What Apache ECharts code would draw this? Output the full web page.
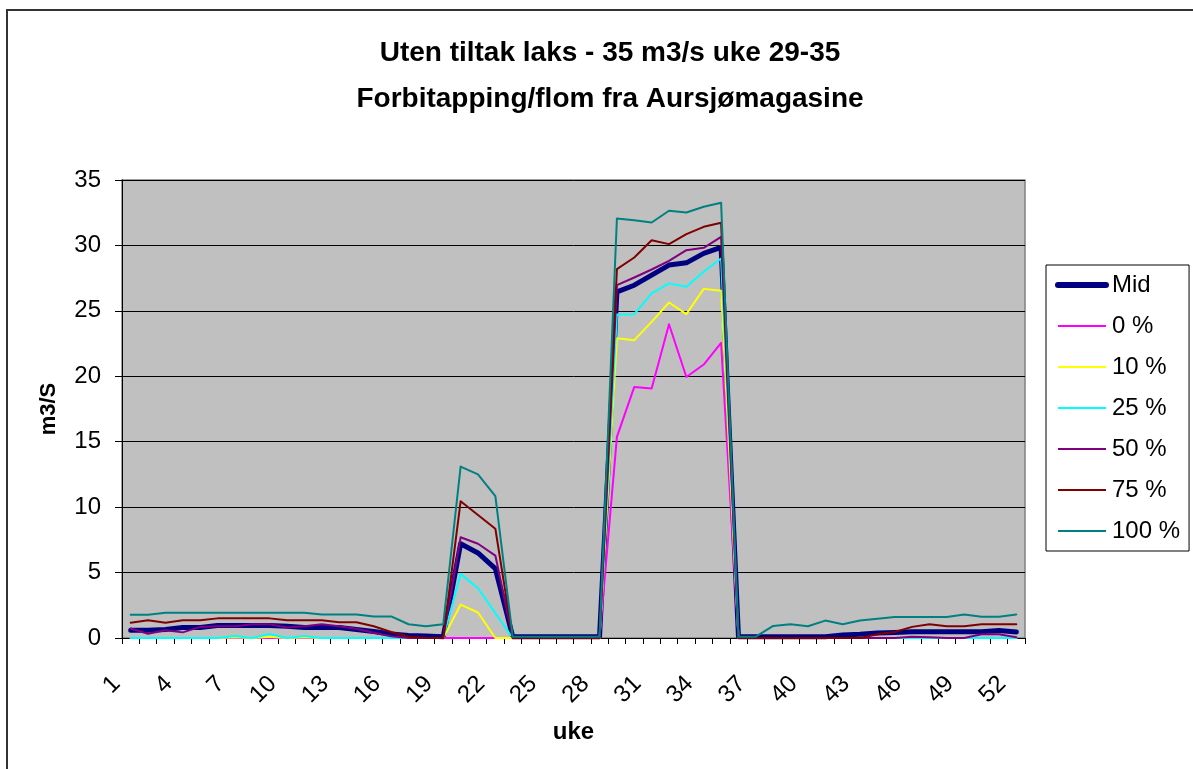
<!DOCTYPE html>
<html>
<head>
<meta charset="utf-8">
<script src="https://cdn.jsdelivr.net/npm/echarts@6/dist/echarts.min.js"></script>
<style>
  html, body { margin: 0; padding: 0; background: #fff; }
  #chart { width: 1193px; height: 769px; }
</style>
</head>
<body>
<div id="chart"></div>
<script>
// uke 1..52
const weeks = [];
for (let i = 1; i <= 52; i++) weeks.push(String(i));

const midData = [0.6, 0.6, 0.65, 0.8, 0.8, 0.95, 0.95, 0.95, 0.95, 0.9, 0.8, 0.8, 0.8, 0.65, 0.5, 0.3, 0.2, 0.15, 0.1,
  7.2, 6.5, 5.3, 0.1, 0.1, 0.1, 0.1, 0.1, 0.1,
  26.45, 26.96, 27.73, 28.5, 28.67, 29.39, 29.85,
  0.1, 0.1, 0.1, 0.1, 0.1, 0.1, 0.23, 0.28, 0.38, 0.42, 0.48, 0.48, 0.48, 0.48, 0.48, 0.58, 0.46];
const p0Data = [0, 0, 0, 0, 0, 0, 0, 0, 0, 0, 0, 0, 0, 0, 0, 0, 0, 0, 0,
  0, 0, 0, 0, 0, 0, 0, 0, 0,
  15.37, 19.19, 19.07, 23.98, 19.95, 20.9, 22.55,
  0, 0, 0, 0, 0, 0, 0, 0, 0, 0, 0, 0, 0, 0, 0, 0, 0];
const p10Data = [0, 0, 0, 0, 0, 0, 0.05, 0, 0.1, 0, 0.05, 0, 0, 0, 0, 0, 0, 0, 0,
  2.55, 1.95, 0, 0, 0, 0, 0, 0, 0,
  22.91, 22.76, 24.16, 25.64, 24.75, 26.68, 26.53,
  0, 0, 0, 0, 0, 0, 0, 0, 0, 0, 0, 0, 0, 0, 0, 0, 0];
const p25Data = [0, 0, 0, 0, 0, 0, 0.15, 0, 0.3, 0, 0.15, 0, 0, 0, 0, 0, 0, 0, 0,
  4.9, 3.8, 1.9, 0, 0, 0, 0, 0, 0,
  24.72, 24.75, 26.33, 27.1, 26.84, 27.99, 29.0,
  0, 0, 0, 0, 0, 0, 0, 0, 0, 0, 0, 0, 0, 0, 0, 0, 0];
const p50Data = [0.72, 0.33, 0.6, 0.43, 0.85, 0.9, 0.9, 1.05, 1.05, 0.8, 0.9, 1.05, 0.9, 0.7, 0.4, 0.13, 0, 0, 0,
  7.7, 7.2, 6.3, 0, 0, 0, 0, 0, 0,
  26.96, 27.55, 28.16, 28.82, 29.64, 29.82, 30.66,
  0, 0, 0, 0, 0, 0, 0, 0, 0, 0, 0.1, 0.05, 0, 0, 0.28, 0.28, 0.05];
const p75Data = [1.17, 1.35, 1.17, 1.35, 1.35, 1.5, 1.5, 1.5, 1.5, 1.35, 1.35, 1.35, 1.2, 1.2, 0.9, 0.46, 0.1, 0, 0,
  10.45, 9.4, 8.35, 0, 0, 0, 0, 0, 0,
  28.19, 29.08, 30.4, 30.1, 30.86, 31.42, 31.73,
  0, 0, 0, 0, 0, 0, 0, 0, 0.28, 0.46, 0.85, 1.05, 0.9, 0.9, 1.05, 1.05, 1.05];
const p100Data = [1.78, 1.78, 1.93, 1.93, 1.93, 1.93, 1.93, 1.93, 1.93, 1.93, 1.93, 1.8, 1.8, 1.8, 1.65, 1.65, 1.05, 0.9, 1.05,
  13.1, 12.5, 10.85, 0.1, 0.1, 0.1, 0.1, 0.1, 0.1,
  32.06, 31.93, 31.75, 32.65, 32.52, 32.95, 33.26,
  0.1, 0.1, 0.92, 1.05, 0.9, 1.33, 1.05, 1.33, 1.48, 1.6, 1.6, 1.6, 1.6, 1.8, 1.63, 1.63, 1.8];

const seriesNames = ['Mid', '0 %', '10 %', '25 %', '50 %', '75 %', '100 %'];
const seriesColors = ['#000080', '#FF00FF', '#FFFF00', '#00FFFF', '#800080', '#800000', '#008080'];
const allData = [midData, p0Data, p10Data, p25Data, p50Data, p75Data, p100Data];

const FONT = 'Liberation Sans, Arial, sans-serif';

let chart = echarts.init(document.getElementById('chart'));

let series = seriesNames.map((name, i) => {
  return {
    name: name,
    type: 'line',
    data: allData[i],
    symbol: 'none',
    showSymbol: false,
    animation: false,
    lineStyle: {
      color: seriesColors[i],
      width: i === 0 ? 5 : 2,
      cap: 'round',
      join: 'round'
    },
    itemStyle: { color: seriesColors[i] }
  };
});

// legend entries: line only, Mid thicker
let legendData = seriesNames.map((name, i) => {
  return {
    name: name,
    itemStyle: { color: 'rgba(0,0,0,0)', borderWidth: 0 },
    lineStyle: { color: seriesColors[i], width: i === 0 ? 6 : 2, cap: i === 0 ? 'round' : 'butt' }
  };
});

let options = {
  animation: false,
  backgroundColor: '#fff',
  textStyle: { fontFamily: FONT, color: '#000' },
  title: {
    text: 'Uten tiltak laks - 35 m3/s uke 29-35\nForbitapping/flom fra Aursjømagasine',
    left: 605,
    top: 25,
    textAlign: 'center',
    textStyle: {
      fontFamily: FONT,
      fontSize: 28,
      fontWeight: 'bold',
      color: '#000',
      lineHeight: 46
    }
  },
  legend: {
    orient: 'vertical',
    left: 1046,
    top: 265,
    padding: [8, 9, 8, 9],
    itemGap: 17,
    itemWidth: 48,
    itemHeight: 24,
    borderColor: '#000',
    borderWidth: 1,
    backgroundColor: '#fff',
    textStyle: { fontFamily: FONT, fontSize: 24, color: '#000', padding: [0, 0, 0, 1] },
    data: legendData
  },
  grid: {
    left: 122,
    right: 168,
    top: 180,
    bottom: 131,
    show: true,
    backgroundColor: '#C0C0C0',
    borderColor: '#808080',
    borderWidth: 1.5
  },
  xAxis: {
    type: 'category',
    data: weeks,
    boundaryGap: true,
    name: 'uke',
    nameLocation: 'middle',
    nameGap: 82,
    nameTextStyle: { fontFamily: FONT, fontSize: 24, fontWeight: 'bold', color: '#000' },
    axisLine: { lineStyle: { color: '#000', width: 1 } },
    axisTick: { show: true, interval: 0, length: 6, inside: false, lineStyle: { color: '#000' } },
    axisLabel: {
      interval: 2,
      rotate: 45,
      margin: 28,
      padding: [0, 20, 0, 0],
      fontFamily: FONT,
      fontSize: 24,
      color: '#000'
    },
    splitLine: { show: false }
  },
  yAxis: {
    type: 'value',
    min: 0,
    max: 35,
    interval: 5,
    name: 'm3/S',
    nameLocation: 'middle',
    nameRotate: 90,
    nameGap: 62,
    nameTextStyle: { fontFamily: FONT, fontSize: 22, fontWeight: 'bold', color: '#000' },
    axisLine: { show: true, lineStyle: { color: '#000', width: 1 } },
    axisTick: { show: true, length: 7, inside: false, lineStyle: { color: '#000' } },
    axisLabel: { margin: 21, fontFamily: FONT, fontSize: 24, color: '#000' },
    splitLine: { show: true, lineStyle: { color: '#000', width: 1 } }
  },
  graphic: [
    {
      type: 'rect',
      silent: true,
      shape: { x: 7, y: 10, width: 1300, height: 900 },
      style: { fill: 'none', stroke: '#333', lineWidth: 2 }
    }
  ],
  series: series
};

chart.setOption(options, true);
</script>
</body>
</html>
